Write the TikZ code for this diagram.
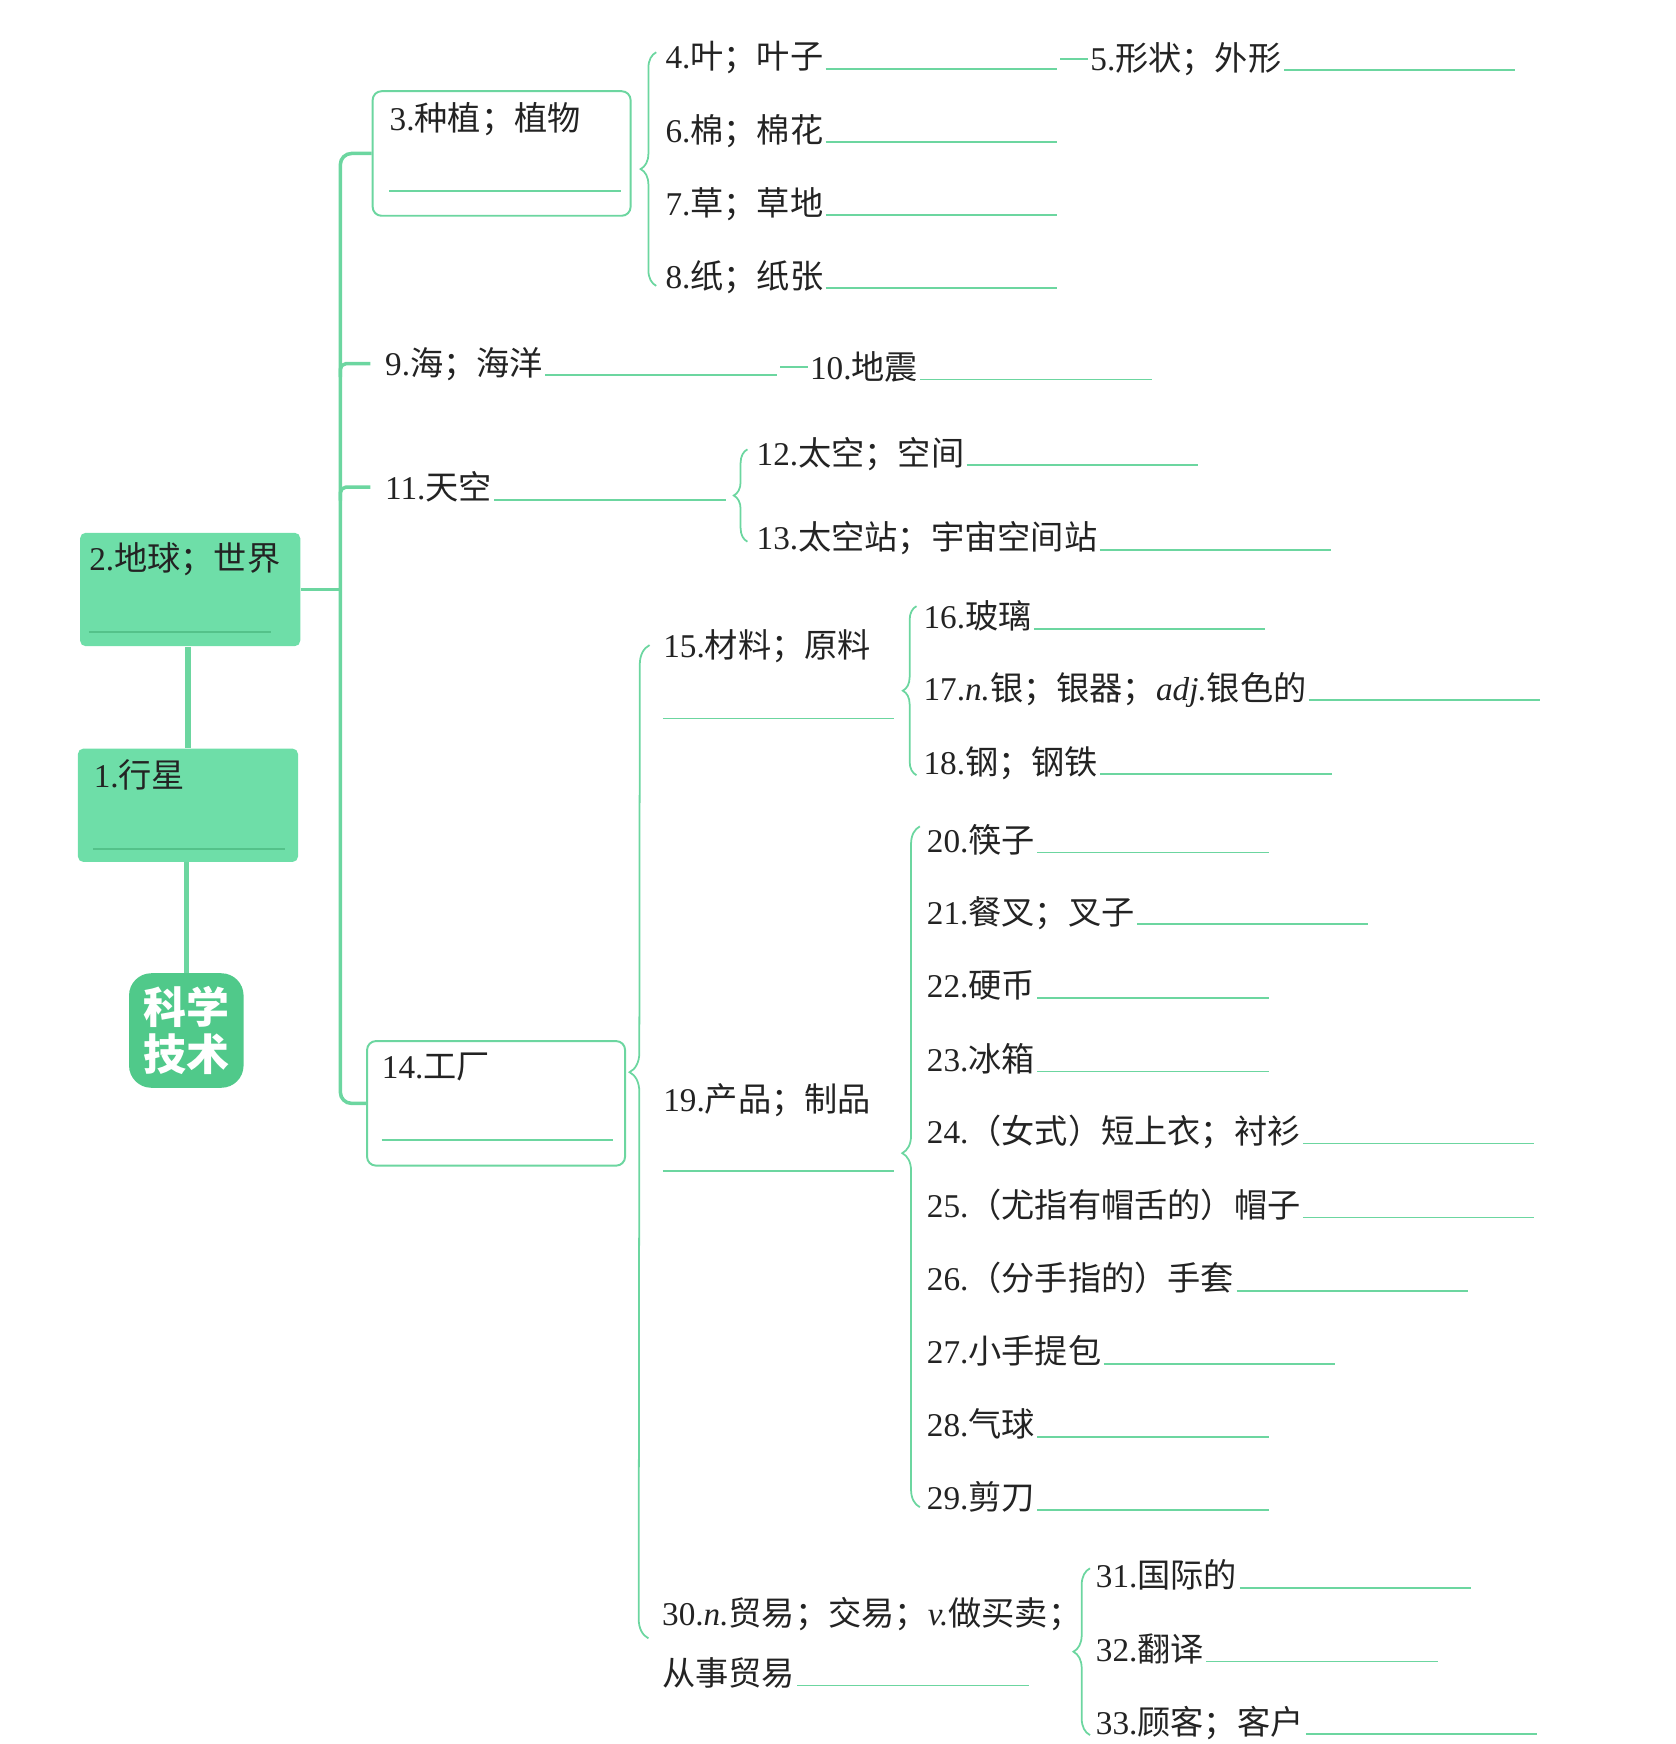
\documentclass[tikz,border=0pt]{standalone}
\usepackage{fontspec}
\setmainfont{Liberation Serif}
\newfontfamily\cjk{Noto Sans CJK SC}
\usetikzlibrary{calc,decorations.pathreplacing}

\definecolor{boxgreen}{RGB}{110,222,168}
\definecolor{rootgreen}{RGB}{80,201,138}
\definecolor{linegreen}{RGB}{108,214,160}
\definecolor{deepgreen}{RGB}{84,194,138}
\definecolor{ink}{RGB}{35,35,35}

\newcommand\nr[1]{{\rmfamily #1}}
% answer line after a word
\newcommand\ans[1]{\draw[blank] ([xshift=1pt]#1.base east) -- ++(208,0) coordinate (#1-e);}

\begin{document}
\begin{tikzpicture}[x=0.02cm, y=-0.02cm,
	item/.style={anchor=west, inner sep=0pt, text=ink, font=\cjk\fontsize{17}{20}\selectfont},
	blank/.style={draw=linegreen, line width=0.9pt},
	hub/.style={fill=boxgreen, rounded corners=0.1cm, minimum width=3.96cm, minimum height=2.04cm},
	frame/.style={draw=linegreen, line width=1pt, fill=white, rounded corners=0.16cm, minimum width=4.64cm, minimum height=2.24cm},
	root/.style={fill=rootgreen, rounded corners=0.4cm, minimum width=2.06cm, minimum height=2.06cm, text=white, align=center, font=\cjk\bfseries\fontsize{22}{24}\selectfont},
	stem/.style={draw=linegreen, line width=2.8pt},
	trunk/.style={draw=linegreen, line width=1.8pt},
	brace/.style={draw=linegreen, line width=0.9pt, decorate, decoration={brace, amplitude=8pt}}]
	\useasboundingbox (0,0) rectangle (1506,1568);

	% left column
	\node[root] (kj) at (167.5,926.5) {科学\\技术};
	\node[hub] (b1) at (169,724) {};
	\node[hub] (b2) at (171,530) {};
	\node[item] (t1) at (84,697) {\nr{1.}行星};
	\node[item] (t2) at (80,503) {\nr{2.}地球；世界};
	\draw[blank, draw=deepgreen] ([shift={(0,66)}]t1.west) -- ++(172,0);
	\draw[blank, draw=deepgreen] ([shift={(0,65)}]t2.west) -- ++(164,0);
	\draw[stem] (kj.north) -- (kj.north |- b1.south);
	\draw[stem] (b1.north) -- (b1.north |- b2.south);

	% framed boxes
	\node[frame] (b3) at (451,138) {};
	\node[frame] (b14) at (446,992) {};
	\node[item] (t3) at (350,107) {\nr{3.}种植；植物};
	\node[item] (t14) at (343,959) {\nr{14.}工厂};
	\draw[blank] ([shift={(0,65)}]t3.west) -- ++(208,0);
	\draw[blank] ([shift={(0,66)}]t14.west) -- ++(208,0);

	% trunk
	\coordinate (trunk) at (306,530);
	\draw[trunk] (b2.east) -- (b2.east -| trunk);
	\draw[trunk, rounded corners=0.2cm] (b3.west) -| (trunk) |- (b14.west);

	\node[item] (t9) at (346,327) {\nr{9.}海；海洋};
	\ans{t9}
	\node[item] (t10) at (728,330) {\nr{10.}地震};
	\ans{t10}
	\node[item] (t11) at (346,438) {\nr{11.}天空};
	\ans{t11}
	\draw[trunk, rounded corners=0.1cm] ($(t9.west)+(-13,0)$) -| ($(t9.west -| trunk)+(0,12)$);
	\draw[trunk, rounded corners=0.1cm] ($(t11.west)+(-13,0)$) -| ($(t11.west -| trunk)+(0,12)$);
	\draw[blank] ($(t9-e |- t10.west)+(3,0)$) -- ([xshift=-1pt]t10.west);

	% plants
	\foreach \n/\w [count=\i from 0] in {4/叶；叶子, 6/棉；棉花, 7/草；草地, 8/纸；纸张} {
		\node[item] (t\n) at (598,{52+65.67*\i}) {\nr{\n.}\w};
		\ans{t\n}
	}
	\node[item] (t5) at (980,53) {\nr{5.}形状；外形};
	\ans{t5}
	\draw[blank] ($(t4-e |- t5.west)+(3,0)$) -- ([xshift=-1pt]t5.west);
	\draw[brace] ([shift={(-8,8)}]t8.west) -- ([shift={(-8,-5)}]t4.west);

	% sky
	\node[item] (t12) at (680,408) {\nr{12.}太空；空间};
	\ans{t12}
	\node[item] (t13) at (680,484) {\nr{13.}太空站；宇宙空间站};
	\ans{t13}
	\draw[brace, decoration={amplitude=7pt}] ([shift={(-8,3)}]t13.west) -- ([shift={(-8,-4)}]t12.west);

	% factory
	\node[item] (t15) at (596,581) {\nr{15.}材料；原料};
	\draw[blank] ([shift={(0,65)}]t15.west) -- ++(208,0);
	\node[item] (t19) at (596,989) {\nr{19.}产品；制品};
	\draw[blank] ([shift={(0,64)}]t19.west) -- ++(208,0);
	\node[item] (t30) at (595,1451) {\nr{30.\itshape n.}贸易；交易；\nr{\itshape v.}做买卖；};
	\node[item] (t30b) at (595,1504) {从事贸易};
	\ans{t30b}
	\draw[brace, decoration={amplitude=10pt, aspect=0.57}] ([shift={(-12,22)}]t30.west) -- ([shift={(-12,-1)}]t15.west);

	\node[item] (t16) at (830,554) {\nr{16.}玻璃};
	\ans{t16}
	\node[item] (t17) at (830,620) {\nr{17.\itshape n.}银；银器；\nr{\itshape adj.}银色的};
	\ans{t17}
	\node[item] (t18) at (830,686) {\nr{18.}钢；钢铁};
	\ans{t18}
	\draw[brace, decoration={amplitude=7pt}] ([shift={(-6,11)}]t18.west) -- ([shift={(-6,-9)}]t16.west);

	\foreach \n/\w [count=\i from 0] in {20/筷子, 21/餐叉；叉子, 22/硬币, 23/冰箱, 24/（女式）短上衣；衬衫,
		25/（尤指有帽舌的）帽子, 26/（分手指的）手套, 27/小手提包, 28/气球, 29/剪刀} {
		\node[item] (t\n) at (833,{755+65.67*\i}) {\nr{\n.}\w};
		\ans{t\n}
	}
	\draw[brace, decoration={amplitude=9pt, aspect=0.52}] ([shift={(-6,9)}]t29.west) -- ([shift={(-6,-12)}]t20.west);

	\foreach \n/\w [count=\i from 0] in {31/国际的, 32/翻译, 33/顾客；客户} {
		\node[item] (t\n) at (985,{1416+66.5*\i}) {\nr{\n.}\w};
		\ans{t\n}
	}
	\draw[brace, decoration={amplitude=8.5pt}] ([shift={(-5,11)}]t33.west) -- ([shift={(-5,-6)}]t31.west);
\end{tikzpicture}
\end{document}
